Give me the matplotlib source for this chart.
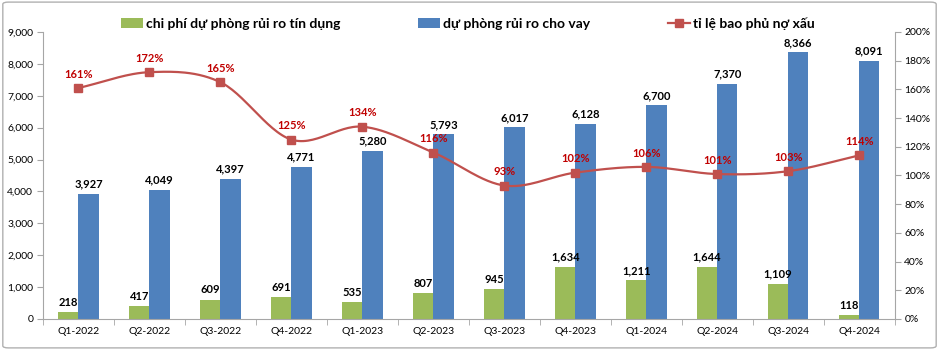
import numpy as np
import matplotlib
matplotlib.use("Agg")
import matplotlib.pyplot as plt
from matplotlib.lines import Line2D
from matplotlib.patches import Patch, FancyBboxPatch
from matplotlib.ticker import FuncFormatter, MultipleLocator

plt.rcParams['font.family'] = ['Lato', 'Noto Sans', 'DejaVu Sans']

quarters = ["Q1-2022", "Q2-2022", "Q3-2022", "Q4-2022", "Q1-2023", "Q2-2023",
            "Q3-2023", "Q4-2023", "Q1-2024", "Q2-2024", "Q3-2024", "Q4-2024"]
credit_cost = [218, 417, 609, 691, 535, 807, 945, 1634, 1211, 1644, 1109, 118]
loan_provision = [3927, 4049, 4397, 4771, 5280, 5793, 6017, 6128, 6700, 7370, 8366, 8091]
coverage_ratio = [161, 172, 165, 125, 134, 116, 93, 102, 106, 101, 103, 114]

GREEN = "#9BBB59"
BLUE = "#4F81BD"
RED = "#C0504D"
LABEL_RED = "#C00000"
AXIS_GRAY = "#A6A6A6"


def smooth_curve(x, y, n=30):
    """Catmull-Rom spline through the points, like a smoothed line in a spreadsheet chart."""
    x = np.asarray(x, float)
    y = np.asarray(y, float)
    px = np.concatenate([[2 * x[0] - x[1]], x, [2 * x[-1] - x[-2]]])
    py = np.concatenate([[2 * y[0] - y[1]], y, [2 * y[-1] - y[-2]]])
    xs, ys = [], []
    t = np.linspace(0, 1, n, endpoint=False)
    for i in range(1, len(px) - 2):
        for arr, out in ((px, xs), (py, ys)):
            p0, p1, p2, p3 = arr[i - 1], arr[i], arr[i + 1], arr[i + 2]
            out.extend(0.5 * ((2 * p1) + (-p0 + p2) * t
                              + (2 * p0 - 5 * p1 + 4 * p2 - p3) * t ** 2
                              + (-p0 + 3 * p1 - 3 * p2 + p3) * t ** 3))
    xs.append(x[-1])
    ys.append(y[-1])
    return np.array(xs), np.array(ys)


fig = plt.figure(figsize=(9.39, 3.5), dpi=100)
fig.patches.append(FancyBboxPatch((0.003, 0.006), 0.994, 0.988, boxstyle="round,pad=0,rounding_size=0.006",
                                  transform=fig.transFigure, facecolor="none",
                                  edgecolor="#B0B0B0", linewidth=1.0, zorder=-1))

ax = fig.add_axes([0.0458, 0.0886, 0.907, 0.82])
ax2 = ax.twinx()

x = np.arange(len(quarters))
w = 0.285

b1 = ax.bar(x - w / 2, credit_cost, width=w, color=GREEN, zorder=2)
b2 = ax.bar(x + w / 2, loan_provision, width=w, color=BLUE, zorder=2)

for rects, vals in ((b1, credit_cost), (b2, loan_provision)):
    for r, v in zip(rects, vals):
        ax.annotate(f"{v:,}", (r.get_x() + r.get_width() / 2, v), xytext=(0, 3),
                    textcoords="offset points", ha="center", va="bottom",
                    fontsize=8, fontweight="bold", color="black", zorder=5)

sx, sy = smooth_curve(x, coverage_ratio)
ax2.plot(sx, sy, color=RED, linewidth=1.6, zorder=3)
ax2.plot(x, coverage_ratio, linestyle="none", marker="s", markersize=6,
         color=RED, zorder=4)
for xi, v in zip(x, coverage_ratio):
    ax2.annotate(f"{v}%", (xi, v), xytext=(0, 6), textcoords="offset points",
                 ha="center", va="bottom", fontsize=8, fontweight="bold",
                 color=LABEL_RED, zorder=6)

ax.set_xlim(-0.5, len(quarters) - 0.5)
ax.set_ylim(0, 9000)
ax2.set_ylim(0, 200)
ax.yaxis.set_major_locator(MultipleLocator(1000))
ax2.yaxis.set_major_locator(MultipleLocator(20))
ax.yaxis.set_major_formatter(FuncFormatter(lambda v, p: f"{int(v):,}"))
ax2.yaxis.set_major_formatter(FuncFormatter(lambda v, p: f"{int(v)}%"))

ax.set_xticks(x)
ax.set_xticklabels(quarters)
ax.set_xticks(np.arange(-0.5, len(quarters), 1), minor=True)
ax.tick_params(axis="x", which="major", length=0, labelsize=7.5, pad=6)
ax.tick_params(axis="x", which="minor", length=4, color=AXIS_GRAY)
ax.tick_params(axis="y", length=4, color=AXIS_GRAY, labelsize=7.5, pad=3)
ax2.tick_params(axis="y", length=4, color=AXIS_GRAY, labelsize=7.5, pad=3)

for a in (ax, ax2):
    a.spines["top"].set_visible(False)
    for s in ("left", "right", "bottom"):
        a.spines[s].set_color(AXIS_GRAY)
ax.spines["right"].set_visible(False)
ax2.spines["left"].set_visible(False)
ax2.spines["bottom"].set_visible(False)

handles = [
    Patch(facecolor=GREEN, label="chi phí dự phòng rủi ro tín dụng"),
    Patch(facecolor=BLUE, label="dự phòng rủi ro cho vay"),
    Line2D([0], [0], color=RED, marker="s", markersize=6, linewidth=1.6,
           label="tỉ lệ bao phủ nợ xấu"),
]
fig.legend(handles=handles, loc="center", bbox_to_anchor=(0.498, 0.932), ncol=3,
           frameon=False, prop={"size": 10, "weight": "bold"},
           handlelength=1.6, handleheight=0.7, handletextpad=0.2, columnspacing=5.6)

fig.savefig("out.png", dpi=100)
